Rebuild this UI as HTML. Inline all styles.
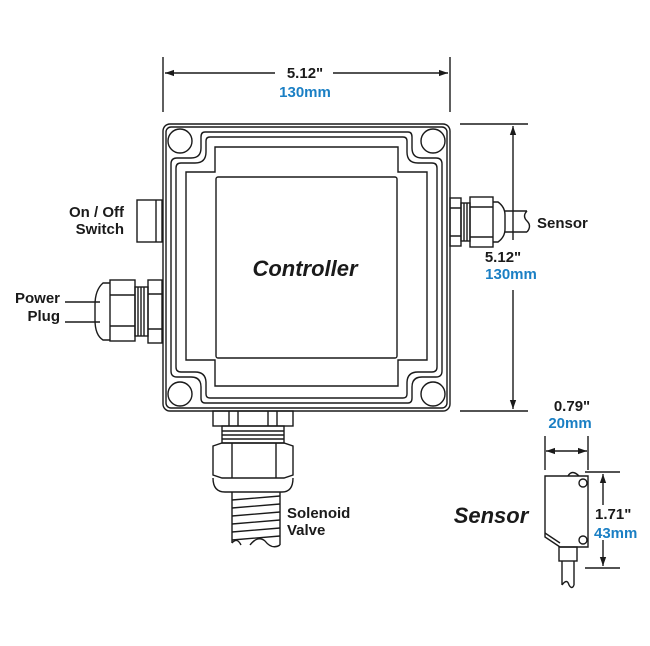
<!DOCTYPE html>
<html><head><meta charset="utf-8"><style>
html,body{margin:0;padding:0;background:#fff;width:650px;height:646px;overflow:hidden}
svg{display:block}
.t{font-family:"Liberation Sans",sans-serif;font-weight:bold;fill:#1a1a1a}
.b{fill:#1a7fc4}
</style></head><body>
<svg width="650" height="646" viewBox="0 0 650 646" xmlns="http://www.w3.org/2000/svg">
<defs>
<marker id="a" viewBox="0 0 10 10" refX="10" refY="5" markerWidth="9" markerHeight="9" orient="auto-start-reverse" markerUnits="userSpaceOnUse"><path d="M0,1.5 L10,5 L0,8.5z" fill="#1a1a1a"/></marker>
</defs>
<g stroke="#1a1a1a" stroke-width="1.4" fill="none">
<!-- top dimension -->
<line x1="163" y1="57" x2="163" y2="112"/>
<line x1="450" y1="57" x2="450" y2="112"/>
<line x1="165" y1="73" x2="275" y2="73" marker-start="url(#a)"/>
<line x1="333" y1="73" x2="448" y2="73" marker-end="url(#a)"/>
<!-- right dimension -->
<line x1="460" y1="124" x2="528" y2="124"/>
<line x1="460" y1="411" x2="528" y2="411"/>
<line x1="513" y1="126" x2="513" y2="240" marker-start="url(#a)"/>
<line x1="513" y1="290" x2="513" y2="409" marker-end="url(#a)"/>
<!-- box -->
<rect x="163" y="124" width="287" height="287" rx="7"/>
<rect x="166" y="127" width="281" height="281" rx="5"/>
<circle cx="180" cy="141" r="12"/><circle cx="433" cy="141" r="12"/>
<circle cx="180" cy="394" r="12"/><circle cx="433" cy="394" r="12"/>
<path d="M205,132 H408 Q412,132 412,137 V148 Q412,158 422,158 H436 Q442,158 442,164 V371 Q442,377 436,377 H422 Q412,377 412,387 V398 Q412,403 408,403 H205 Q201,403 201,398 V387 Q201,377 191,377 H177 Q171,377 171,371 V164 Q171,158 177,158 H191 Q201,158 201,148 V137 Q201,132 205,132Z"/>
<path d="M210,137 H403 Q407,137 407,141 V152 Q407,163 418,163 H432 Q437,163 437,168 V367 Q437,372 432,372 H418 Q407,372 407,383 V394 Q407,398 403,398 H210 Q206,398 206,394 V383 Q206,372 195,372 H181 Q176,372 176,367 V168 Q176,163 181,163 H195 Q206,163 206,152 V141 Q206,137 210,137Z"/>
<path d="M215,147 H398 V172 H427 V360 H398 V386 H215 V360 H186 V172 H215Z"/>
<rect x="216" y="177" width="181" height="181" rx="2"/>
<!-- on/off switch -->
<rect x="137" y="200" width="25" height="42"/>
<line x1="156" y1="200" x2="156" y2="242"/>
<!-- power plug -->
<path d="M65,302 H100 M65,322 H100"/>
<path d="M110,283 H103 Q95,290 95,305 V320 Q95,335 103,340 H110"/>
<rect x="110" y="280" width="25" height="61"/>
<path d="M110,295 H135 M110,326 H135"/>
<rect x="135" y="287" width="13" height="49"/>
<path d="M138,287 V336 M141,287 V336 M144,287 V336"/>
<rect x="148" y="280" width="14" height="63"/>
<path d="M148,294 H162 M148,329 H162"/>
<!-- sensor gland right -->
<rect x="450" y="198" width="11" height="48"/>
<path d="M450,208 H461 M450,236 H461"/>
<rect x="461" y="203" width="9" height="38"/>
<path d="M464,203 V241 M467,203 V241"/>
<rect x="470" y="197" width="23" height="50"/>
<path d="M470,207 H493 M470,237 H493"/>
<path d="M493,202 H498 Q505,207 505,215 V229 Q505,237 498,242 H493"/>
<path d="M505,211 H527 M505,232 H527"/>
<path d="M527,211 Q522,216 527,221 Q532,226 527,232"/>
<!-- solenoid bottom -->
<rect x="213" y="411" width="80" height="15"/>
<path d="M229,411 V426 M238,411 V426 M268,411 V426 M277,411 V426"/>
<rect x="222" y="426" width="62" height="17"/>
<path d="M222,431 H284 M222,435 H284 M222,439 H284"/>
<path d="M213,446 L222,443 H284 L293,446 V475 L284,478 H222 L213,475Z"/>
<path d="M232,443 V478 M276,443 V478"/>
<path d="M213,478 Q213,492 225,492 H282 Q293,492 293,478"/>
<path d="M232,492 V543 M280,492 V545"/>
<path d="M232,500 L280,496 M232,508 L280,504 M232,516 L280,512 M232,524 L280,520 M232,532 L280,528 M232,540 L280,536"/>
<path d="M232,543 Q237,537 241,545 M250,545 Q258,535 265,541 Q272,550 280,545"/>
<!-- sensor -->
<line x1="545" y1="436" x2="545" y2="470"/>
<line x1="588" y1="436" x2="588" y2="470"/>
<line x1="546" y1="451" x2="587" y2="451" marker-start="url(#a)" marker-end="url(#a)"/>
<line x1="585" y1="472" x2="620" y2="472"/>
<line x1="585" y1="568" x2="620" y2="568"/>
<line x1="603" y1="474" x2="603" y2="505" marker-start="url(#a)"/>
<line x1="603" y1="540" x2="603" y2="566" marker-end="url(#a)"/>
<path d="M545,476 H588 V547 H560 L545,537Z"/>
<path d="M568,476 Q572,469 579,476"/>
<path d="M545,533 L560,543"/>
<circle cx="583" cy="483" r="4"/><circle cx="583" cy="540" r="4"/>
<rect x="559" y="547" width="18" height="14"/>
<path d="M562,561 V585 M574,561 V585 M562,585 Q567,578 569,585 M569,585 Q572,590 574,585"/>
</g>
<g class="t">
<text x="305" y="78" font-size="15" text-anchor="middle">5.12"</text>
<text x="305" y="97" font-size="15" text-anchor="middle" class="b">130mm</text>
<text x="305" y="276" font-size="22" font-style="italic" text-anchor="middle">Controller</text>
<text x="124" y="217" font-size="15" text-anchor="end">On / Off</text>
<text x="124" y="234" font-size="15" text-anchor="end">Switch</text>
<text x="60" y="303" font-size="15" text-anchor="end">Power</text>
<text x="60" y="321" font-size="15" text-anchor="end">Plug</text>
<text x="537" y="228" font-size="15">Sensor</text>
<text x="503" y="262" font-size="15" text-anchor="middle">5.12"</text>
<text x="511" y="279" font-size="15" text-anchor="middle" class="b">130mm</text>
<text x="287" y="518" font-size="15">Solenoid</text>
<text x="287" y="535" font-size="15">Valve</text>
<text x="572" y="411" font-size="15" text-anchor="middle">0.79"</text>
<text x="570" y="428" font-size="15" text-anchor="middle" class="b">20mm</text>
<text x="491" y="523" font-size="22" font-style="italic" text-anchor="middle">Sensor</text>
<text x="595" y="519" font-size="15">1.71"</text>
<text x="594" y="538" font-size="15" class="b">43mm</text>
</g>
</svg>
</body></html>
